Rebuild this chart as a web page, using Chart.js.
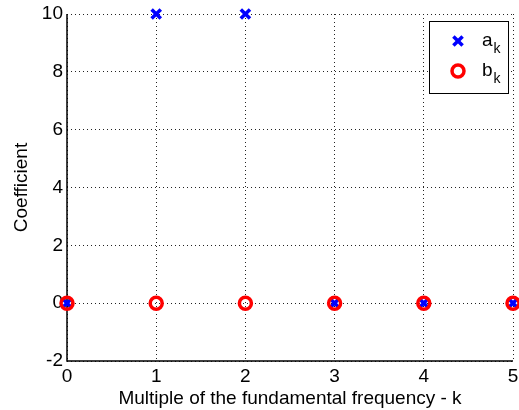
<!DOCTYPE html>
<html>
<head>
<meta charset="utf-8">
<script src="https://cdn.jsdelivr.net/npm/chart.js@4"></script>
<style>
  html, body { margin: 0; padding: 0; background: #fff; }
  #wrap { width: 519px; height: 410px; }
</style>
</head>
<body>
<div id="wrap"><canvas id="chart" width="519" height="410"></canvas></div>
<script>
// harmonic index k and the two coefficient series
const kValues = [0, 1, 2, 3, 4, 5];
const aValues = [0, 10, 10, 0, 0, 0];
const bValues = [0, 0, 0, 0, 0, 0];
const seriesNames = ['a_k', 'b_k'];
const yTicks = [-2, 0, 2, 4, 6, 8, 10];

const FONT = 'Liberation Sans, Arial, sans-serif';

// solid left/bottom axis lines (grid stays dotted)
const axisLines = {
  id: 'axisLines',
  beforeDatasetsDraw(chart) {
    const { ctx, chartArea: a } = chart;
    ctx.save();
    ctx.strokeStyle = '#000';
    ctx.lineWidth = 1.5;
    ctx.beginPath();
    ctx.moveTo(a.left, a.top);
    ctx.lineTo(a.left, a.bottom);
    ctx.lineTo(a.right, a.bottom);
    ctx.stroke();
    ctx.restore();
  }
};

// legend with subscripts (a_k -> a with small k)
const subLegend = {
  id: 'subLegend',
  afterDatasetsDraw(chart) {
    const ctx = chart.ctx;
    const x0 = 429, y0 = 21, w = 79, h = 72;
    ctx.save();
    ctx.fillStyle = '#fff';
    ctx.fillRect(x0, y0, w, h);
    ctx.strokeStyle = '#000';
    ctx.lineWidth = 1;
    ctx.strokeRect(x0 + 0.5, y0 + 0.5, w, h);
    chart.data.datasets.forEach((ds, i) => {
      const cy = y0 + 20 + i * 30;
      ctx.strokeStyle = ds.borderColor;
      ctx.lineWidth = ds.borderWidth;
      ctx.beginPath();
      if (ds.pointStyle === 'circle') {
        ctx.arc(458, cy, ds.pointRadius, 0, Math.PI * 2);
      } else {
        const o = Math.cos(Math.PI / 4) * ds.pointRadius;
        ctx.moveTo(458 - o, cy - o); ctx.lineTo(458 + o, cy + o);
        ctx.moveTo(458 - o, cy + o); ctx.lineTo(458 + o, cy - o);
      }
      ctx.stroke();
      const parts = ds.label.split('_');
      ctx.fillStyle = '#000';
      ctx.textBaseline = 'alphabetic';
      ctx.textAlign = 'left';
      ctx.font = '19px ' + FONT;
      ctx.fillText(parts[0], 482, cy + 5);
      const tw = ctx.measureText(parts[0]).width;
      ctx.font = '14px ' + FONT;
      ctx.fillText(parts[1] || '', 482 + tw + 1, cy + 12);
    });
    ctx.restore();
  }
};

new Chart(document.getElementById('chart'), {
  type: 'scatter',
  data: {
    datasets: [
      {
        label: seriesNames[0],
        data: kValues.map((k, i) => ({ x: k, y: aValues[i] })),
        order: 1,
        pointStyle: 'crossRot',
        pointRadius: 6.5,
        borderWidth: 3.5,
        borderColor: '#0000ff',
        backgroundColor: '#0000ff'
      },
      {
        label: seriesNames[1],
        data: kValues.map((k, i) => ({ x: k, y: bValues[i] })),
        order: 0,
        pointStyle: 'circle',
        pointRadius: 6,
        borderWidth: 3.5,
        borderColor: '#ff0000',
        backgroundColor: 'rgba(0,0,0,0)'
      }
    ]
  },
  options: {
    responsive: false,
    animation: false,
    clip: false,
    layout: { autoPadding: false, padding: { top: 14, right: 6, left: 0, bottom: 0 } },
    plugins: { legend: { display: false }, tooltip: { enabled: false } },
    scales: {
      x: {
        type: 'linear',
        min: 0, max: 5,
        afterFit: s => { s.height = 49; s.paddingLeft = 0; s.paddingRight = 0; },
        afterBuildTicks: s => { s.ticks = kValues.map(v => ({ value: v })); },
        ticks: { color: '#000', font: { family: FONT, size: 19 }, padding: 4, maxRotation: 0 },
        grid: { color: '#222', lineWidth: 1, drawTicks: false },
        border: { display: false, dash: [1, 3] },
        title: { display: true, text: 'Multiple of the fundamental frequency - k', color: '#000', font: { family: FONT, size: 19 }, padding: { top: 0, bottom: 0 } }
      },
      y: {
        min: -2, max: 10,
        afterFit: s => { s.width = 67; s.paddingTop = 0; s.paddingBottom = 0; },
        afterBuildTicks: s => { s.ticks = yTicks.map(v => ({ value: v })); },
        ticks: { color: '#000', font: { family: FONT, size: 19 }, padding: 4 },
        grid: { color: '#222', lineWidth: 1, drawTicks: false },
        border: { display: false, dash: [1, 3] },
        title: { display: true, text: 'Coefficient', color: '#000', font: { family: FONT, size: 19 }, padding: { top: 10, bottom: 0 } }
      }
    }
  },
  plugins: [axisLines, subLegend]
});
</script>
</body>
</html>
